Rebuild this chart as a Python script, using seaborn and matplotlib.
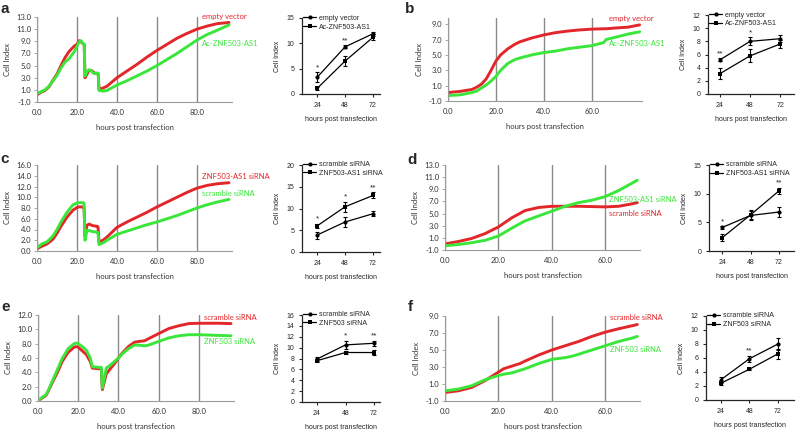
import numpy as np
import pandas as pd
import seaborn as sns
import matplotlib.pyplot as plt
from matplotlib.ticker import FormatStrFormatter

sns.set_style("ticks")
plt.rcParams['font.family'] = ['Liberation Sans', 'DejaVu Sans']

RED = "#e3262a"
GREEN = "#3ae63a"

# --- real-time cell index curves (RTCA) ---
a_hours = [0, 2, 4, 6, 8, 10, 12, 14, 16, 18, 19, 20, 21, 22, 23, 23.6, 24, 25, 26, 27, 28, 29, 30, 30.6,
           31, 33, 35, 40, 45, 50, 55, 60, 65, 70, 75, 80, 85, 90, 96]
a_empty = [0.2, 0.6, 0.9, 1.5, 2.6, 3.6, 5.0, 6.3, 7.3, 8.0, 8.3, 8.5, 9.1, 8.9, 8.6, 8.5, 3.0, 3.6, 4.2, 4.2, 4.0, 3.7, 3.7, 3.6,
           1.1, 1.3, 1.6, 3.0, 4.1, 5.2, 6.4, 7.5, 8.5, 9.5, 10.3, 11.0, 11.5, 11.9, 12.1]
a_ac = [0.4, 0.7, 1.0, 1.6, 2.5, 3.4, 4.6, 5.6, 6.1, 7.0, 7.5, 8.2, 8.9, 9.1, 8.6, 8.5, 3.3, 4.0, 4.3, 4.2, 3.8, 3.7, 3.8, 3.7,
        0.9, 0.8, 0.9, 1.8, 2.5, 3.3, 4.1, 5.0, 6.0, 7.0, 8.1, 9.2, 10.1, 10.8, 11.7]

b_hours = [0, 5, 10, 12, 14, 16, 18, 20, 22, 25, 28, 30, 35, 40, 45, 50, 55, 60, 65, 66, 70, 75, 80]
b_empty = [0.1, 0.25, 0.5, 0.8, 1.2, 1.9, 3.0, 4.2, 5.0, 5.8, 6.4, 6.7, 7.2, 7.6, 7.9, 8.1, 8.25, 8.35, 8.4, 8.4, 8.5, 8.6, 8.9]
b_ac = [-0.3, -0.2, 0.1, 0.3, 0.7, 1.1, 1.6, 2.2, 3.0, 3.9, 4.4, 4.6, 5.0, 5.3, 5.5, 5.8, 6.0, 6.2, 6.6, 7.0, 7.3, 7.7, 8.0]

c_hours = [0, 2, 3, 5, 8, 10, 12, 15, 18, 20, 21, 23, 23.5, 24, 25, 26, 28, 30, 30.5, 31,
           33, 35, 40, 45, 50, 55, 60, 65, 70, 75, 80, 85, 90, 96]
c_si = [0.4, 0.8, 1.0, 1.3, 2.2, 3.3, 4.6, 6.3, 7.6, 8.1, 8.2, 8.2, 8.2, 2.7, 4.8, 5.0, 4.7, 4.6, 4.5, 1.7,
        2.0, 2.6, 4.4, 5.4, 6.3, 7.2, 8.2, 9.1, 10.0, 10.9, 11.7, 12.2, 12.5, 12.7]
c_scr = [0.6, 1.2, 1.4, 1.7, 2.8, 4.0, 5.4, 7.2, 8.6, 8.9, 9.0, 9.0, 8.9, 2.0, 3.8, 3.8, 3.6, 3.5, 3.4, 1.2,
         1.5, 2.0, 3.1, 3.7, 4.3, 4.9, 5.4, 6.0, 6.6, 7.3, 8.0, 8.6, 9.1, 9.6]

d_hours = [0, 5, 10, 15, 20, 25, 30, 35, 40, 45, 50, 55, 60, 65, 70, 72]
d_scr = [0.0, 0.4, 0.9, 1.7, 2.8, 4.3, 5.5, 6.0, 6.2, 6.2, 6.2, 6.15, 6.1, 6.2, 6.6, 6.8]
d_si = [-0.3, -0.1, 0.2, 0.6, 1.3, 2.6, 3.8, 4.6, 5.4, 6.2, 6.8, 7.2, 7.8, 8.8, 10.0, 10.5]

e_hours = [0, 2, 4, 5, 7, 10, 12, 15, 18, 19, 20, 22, 24, 26, 27, 30, 31.5, 32, 33, 34,
           36, 38, 40, 42, 45, 48, 50, 53, 55, 60, 65, 70, 75, 80, 90, 96]
e_scr = [0, 0.4, 0.8, 1.3, 2.5, 4.2, 5.5, 6.8, 7.5, 7.6, 7.5, 7.0, 6.5, 5.5, 4.6, 4.5, 4.5, 1.6, 2.7, 3.8,
         4.5, 5.2, 6.0, 6.7, 7.6, 8.2, 8.3, 8.4, 8.7, 9.4, 10.1, 10.5, 10.8, 10.85, 10.85, 10.8]
e_si = [0, 0.5, 0.9, 1.4, 2.7, 4.6, 5.9, 7.3, 8.0, 8.1, 8.0, 7.6, 7.1, 6.0, 4.8, 4.7, 4.7, 1.8, 3.2, 4.6,
        5.0, 5.5, 6.0, 6.6, 7.3, 7.8, 7.8, 7.7, 7.8, 8.3, 8.8, 9.1, 9.25, 9.25, 9.15, 9.1]

f_hours = [0, 5, 10, 15, 18, 20, 22, 25, 28, 30, 35, 40, 45, 48, 50, 55, 60, 65, 70, 72]
f_scr = [0.0, 0.2, 0.6, 1.4, 2.0, 2.4, 2.8, 3.1, 3.4, 3.7, 4.4, 5.0, 5.5, 5.8, 6.0, 6.6, 7.1, 7.5, 7.85, 8.0]
f_si = [0.2, 0.4, 0.8, 1.5, 1.8, 2.0, 2.15, 2.3, 2.6, 2.8, 3.4, 3.9, 4.1, 4.3, 4.5, 5.0, 5.5, 6.0, 6.4, 6.6]

# --- end-point cell index (mean, sd) at 24/48/72 h ---
days = [24, 48, 72]
pa_ev, pa_ev_sd = [3.3, 9.3, 11.9], [1.0, 0.3, 0.4]
pa_ac, pa_ac_sd = [1.1, 6.5, 11.2], [0.3, 1.0, 0.6]
pb_ev, pb_ev_sd = [5.2, 8.0, 8.4], [0.2, 0.6, 0.5]
pb_ac, pb_ac_sd = [3.1, 5.8, 7.6], [0.8, 1.0, 0.6]
pc_scr, pc_scr_sd = [3.9, 6.9, 8.8], [0.8, 1.2, 0.6]
pc_si, pc_si_sd = [6.0, 10.4, 13.0], [0.5, 1.2, 0.7]
pd_scr, pd_scr_sd = [4.1, 6.2, 6.8], [0.2, 0.8, 0.9]
pd_si, pd_si_sd = [2.3, 6.3, 10.5], [0.6, 0.8, 0.5]
pe_scr, pe_scr_sd = [7.9, 10.5, 10.8], [0.4, 0.8, 0.5]
pe_si, pe_si_sd = [7.6, 9.1, 9.1], [0.3, 0.3, 0.4]
pf_scr, pf_scr_sd = [2.9, 5.9, 8.0], [0.4, 0.4, 0.9]
pf_si, pf_si_sd = [2.4, 4.4, 6.6], [0.2, 0.1, 0.7]

W, H = 796, 430
fig = plt.figure(figsize=(W / 100, H / 100), dpi=100)


def px_axes(left, top, width, height):
    return fig.add_axes([left / W, 1 - (top + height) / H, width / W, height / H])


def px_text(x, y, s, **kw):
    fig.text(x / W, 1 - y / H, s, va="center", **kw)


def rtca(rect, hours, red, green, red_lbl, green_lbl, xmax, ylim, xgrid, red_xy, green_xy):
    ax = px_axes(*rect)
    df = pd.DataFrame({"hours": hours + hours, "ci": red + green,
                       "grp": [red_lbl] * len(hours) + [green_lbl] * len(hours)})
    sns.lineplot(data=df, x="hours", y="ci", hue="grp", hue_order=[red_lbl, green_lbl],
                 palette={red_lbl: RED, green_lbl: GREEN}, lw=2.1, legend=False, ax=ax)
    ax.set_xlim(0, xmax)
    ax.set_ylim(*ylim)
    ax.set_yticks(np.arange(ylim[0], ylim[1] + 0.01, 2))
    ax.set_xticks(xgrid)
    ax.xaxis.set_major_formatter(FormatStrFormatter('%.1f'))
    ax.yaxis.set_major_formatter(FormatStrFormatter('%.1f'))
    ax.xaxis.grid(True, color="#8a8a8a", lw=1.0)
    ax.set_axisbelow(True)
    for s in ["top", "right"]:
        ax.spines[s].set_visible(False)
    for s in ["left", "bottom"]:
        ax.spines[s].set_color("#9a9a9a")
        ax.spines[s].set_linewidth(0.8)
    ax.tick_params(axis="x", length=0, pad=5, labelsize=5.5, labelcolor="#333333")
    ax.tick_params(axis="y", length=2, width=0.6, color="#9a9a9a", pad=2, labelsize=5.5, labelcolor="#333333")
    for lab in ax.get_xticklabels() + ax.get_yticklabels():
        lab.set_fontfamily(['Lato', 'DejaVu Sans'])
    ax.set_xlabel("hours post transfection", fontsize=5.5, labelpad=6, color="#333333", family=['Lato', 'DejaVu Sans'])
    ax.set_ylabel("Cell Index", fontsize=5.5, labelpad=4, color="#333333", family=['Lato', 'DejaVu Sans'])
    px_text(red_xy[0], red_xy[1], red_lbl, color=RED, fontsize=5.5, family=['Lato', 'DejaVu Sans'])
    px_text(green_xy[0], green_xy[1], green_lbl, color=GREEN, fontsize=5.5, family=['Lato', 'DejaVu Sans'])
    return ax


def prism(rect, m1, s1, m2, s2, lbl1, lbl2, xlim, ylim, ystep, stars):
    ax = px_axes(*rect)
    df = pd.DataFrame({"h": days + days, "ci": m1 + m2, "grp": [lbl1] * 3 + [lbl2] * 3})
    sns.lineplot(data=df, x="h", y="ci", hue="grp", style="grp", hue_order=[lbl1, lbl2],
                 style_order=[lbl1, lbl2], markers=["o", "s"], dashes=False,
                 palette=["black", "black"], lw=0.9, markersize=3, markeredgewidth=0, ax=ax)
    ax.errorbar(days, m1, yerr=s1, fmt="none", ecolor="black", elinewidth=0.8, capsize=1.6, capthick=0.8)
    ax.errorbar(days, m2, yerr=s2, fmt="none", ecolor="black", elinewidth=0.8, capsize=1.6, capthick=0.8)
    top = [max(a + sa, b + sb) for a, sa, b, sb in zip(m1, s1, m2, s2)]
    for d, t, st in zip(days, top, stars):
        if st:
            ax.text(d, t + (ylim[1] - ylim[0]) * 0.015, st, ha="center", va="bottom", fontsize=6)
    ax.set_xlim(*xlim)
    ax.set_ylim(*ylim)
    ax.set_xticks(days)
    ax.set_yticks(np.arange(ylim[0], ylim[1] + 0.01, ystep))
    for s in ["top", "right"]:
        ax.spines[s].set_visible(False)
    for s in ["left", "bottom"]:
        ax.spines[s].set_linewidth(0.9)
    ax.tick_params(length=2.5, width=0.8, pad=3, labelsize=5)
    ax.set_xlabel("hours post transfection", fontsize=5, labelpad=5)
    ax.set_ylabel("Cell Index", fontsize=5, labelpad=4)
    h, l = ax.get_legend_handles_labels()
    ax.legend(h, l, loc="upper left", bbox_to_anchor=(0.0, 1.06), frameon=False, fontsize=5,
              handlelength=1.8, handletextpad=0.5, labelspacing=0.25, borderaxespad=0, borderpad=0.2)
    return ax


# row 1
rtca((37, 17, 195, 85), a_hours, a_empty, a_ac, "empty vector", "Ac-ZNF503-AS1",
     97.5, (-1, 13), [0, 20, 40, 60, 80], (202, 16), (202, 44))
prism((302, 18, 78, 76), pa_ev, pa_ev_sd, pa_ac, pa_ac_sd, "empty vector", "Ac-ZNF503-AS1",
      (11, 78), (0, 15), 5, ["*", "**", ""])
rtca((448, 18, 194, 83), b_hours, b_empty, b_ac, "empty vector", "Ac-ZNF503-AS1",
     81, (-1, 9.8), [0, 20, 40, 60], (609, 19), (609, 43))
prism((708, 15, 86, 79), pb_ev, pb_ev_sd, pb_ac, pb_ac_sd, "empty vector", "Ac-ZNF503-AS1",
      (14.4, 83), (0, 12), 2, ["**", "*", ""])

# row 2
rtca((37, 165, 195, 86), c_hours, c_si, c_scr, "ZNF503-AS1 siRNA", "scramble siRNA",
     97.5, (0, 16), [0, 20, 40, 60, 80], (202, 177), (202, 194))
prism((302, 165, 78, 87), pc_scr, pc_scr_sd, pc_si, pc_si_sd, "scramble siRNA", "ZNF503-AS1 siRNA",
      (11, 78), (0, 20), 5, ["*", "*", "**"])
rtca((445, 165, 195, 85), d_hours, d_scr, d_si, "scramble siRNA", "ZNF503-AS1 siRNA",
     73, (-1, 13), [0, 20, 40, 60], (609, 213), (609, 199))
prism((709, 165, 85, 86), pd_scr, pd_scr_sd, pd_si, pd_si_sd, "scramble siRNA", "ZNF503-AS1 siRNA",
      (13, 84.6), (0, 15), 5, ["*", "", "**"])

# row 3
rtca((38, 315, 196, 86), e_hours, e_scr, e_si, "scramble siRNA", "ZNF503 siRNA",
     97.5, (0, 12), [0, 20, 40, 60, 80], (204, 318), (204, 342))
prism((302, 315, 78, 87), pe_scr, pe_scr_sd, pe_si, pe_si_sd, "scramble siRNA", "ZNF503 siRNA",
      (11.4, 77), (0, 16), 2, ["", "*", "**"])
rtca((445, 316, 195, 85), f_hours, f_scr, f_si, "scramble siRNA", "ZNF503 siRNA",
     73, (-1, 9), [0, 20, 40, 60], (610, 318), (610, 350))
prism((706, 316, 88, 84), pf_scr, pf_scr_sd, pf_si, pf_si_sd, "scramble siRNA", "ZNF503 siRNA",
      (11.4, 85.5), (0, 12), 2, ["", "**", ""])

for lbl, x, y in [("a", 5, 9), ("b", 410, 9), ("c", 5, 159), ("d", 412, 160), ("e", 6, 307), ("f", 410, 307)]:
    px_text(x, y, lbl, fontsize=11, fontweight="bold", ha="center")

fig.savefig("out.png", dpi=100)
